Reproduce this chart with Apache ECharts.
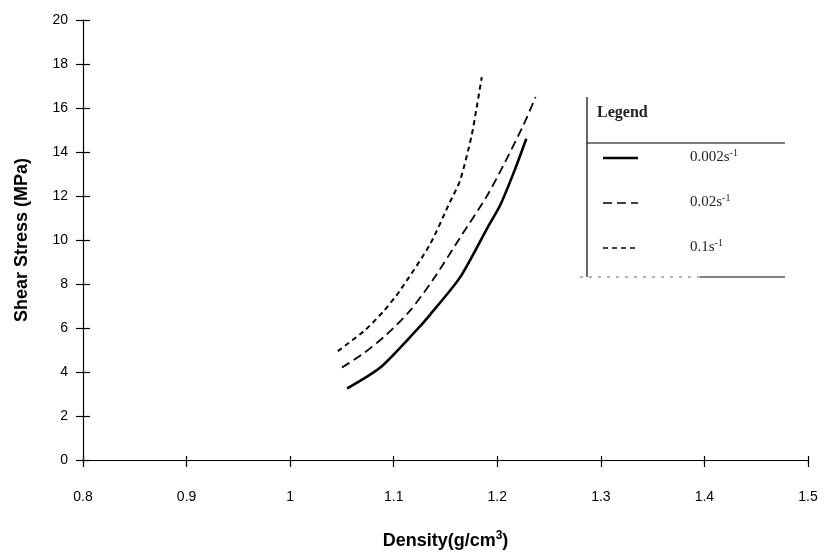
<!DOCTYPE html>
<html>
<head>
<meta charset="utf-8">
<script src="https://cdn.jsdelivr.net/npm/echarts@6/dist/echarts.min.js"></script>
<style>
html,body{margin:0;padding:0;background:#fff;}
#c{width:827px;height:555px;}
</style>
</head>
<body>
<div id="c"></div>
<script>
var xTicks = [0.8, 0.9, 1, 1.1, 1.2, 1.3, 1.4, 1.5];
var yTicks = [0, 2, 4, 6, 8, 10, 12, 14, 16, 18, 20];
var seriesNames = ['0.002s', '0.02s', '0.1s'];
var s0002 = [[1.055,3.25],[1.087,4.2],[1.122,5.9],[1.135,6.6],[1.164,8.3],[1.191,10.6],[1.203,11.6],[1.217,13.2],[1.228,14.6]];
var s002 = [[1.050,4.2],[1.071,4.85],[1.093,5.7],[1.116,6.8],[1.138,8.2],[1.164,10.1],[1.190,12.0],[1.206,13.4],[1.225,15.2],[1.237,16.5]];
var s01 = [[1.046,4.95],[1.071,5.85],[1.090,6.75],[1.106,7.7],[1.135,9.8],[1.154,11.7],[1.164,12.7],[1.175,14.7],[1.180,16.0],[1.185,17.4]];

var chart = echarts.init(document.getElementById('c'));
var G = {left:83, right:19, top:20, bottom:92};
var gw = 827 - G.left - G.right, gh = 555 - G.top - G.bottom;
var labelFont = {color:'#000', fontFamily:'Liberation Sans, Arial', fontSize:14};
var tick = {show:true, length:7, lineStyle:{color:'#000', width:1.2}};
function legendItem(y, dash, label){
  return [
    {type:'line', shape:{x1:603,y1:y,x2:638,y2:y}, style:{stroke:'#000', lineWidth:dash?1.6:2.5, lineDash:dash||null}},
    {type:'text', left:690, top:y-10, style:{text:'{b|'+label+'}{s|-1}', rich:{b:{fontFamily:'Liberation Serif, Times New Roman', fontSize:15, fill:'#222'}, s:{fontFamily:'Liberation Serif', fontSize:10, fill:'#222', verticalAlign:'top', padding:[0,0,8,0]}}}}
  ];
}
var graphic = [
  {type:'line', shape:{x1:587,y1:97,x2:587,y2:277}, style:{stroke:'#000', lineWidth:1.2}},
  {type:'line', shape:{x1:587,y1:143,x2:785,y2:143}, style:{stroke:'#000', lineWidth:1.2}},
  {type:'line', shape:{x1:580,y1:277,x2:700,y2:277}, style:{stroke:'#666', lineWidth:1, lineDash:[3,6]}},
  {type:'line', shape:{x1:700,y1:277,x2:785,y2:277}, style:{stroke:'#000', lineWidth:1.2}},
  {type:'text', left:597, top:105, style:{text:'Legend', fontFamily:'Liberation Serif, Times New Roman', fontSize:16, fontWeight:'bold', fill:'#222'}}
].concat(legendItem(158, null, '0.002s'), legendItem(203, [9,5], '0.02s'), legendItem(248, [5,4], '0.1s'));

chart.setOption({
  backgroundColor:'#fff',
  animation:false,
  grid:{left:G.left, right:G.right, top:G.top, bottom:G.bottom, containLabel:false},
  xAxis:[
    {type:'value', min:0.8, max:1.5, interval:0.1, position:'bottom',
     axisLine:{show:true, onZero:false, lineStyle:{color:'#000', width:1.2}},
     axisTick:tick, splitLine:{show:false},
     axisLabel:Object.assign({margin:30, formatter:function(v){return String(Math.round(v*10)/10);}}, labelFont),
     name:'Density(g/cm{sup|3})', nameLocation:'middle', nameGap:70,
     nameTextStyle:{color:'#000', fontFamily:'Liberation Sans, Arial', fontSize:18, fontWeight:'bold',
       rich:{sup:{fontSize:12, fontWeight:'bold', verticalAlign:'top', padding:[0,0,10,0], fontFamily:'Liberation Sans'}}}},
    {type:'value', min:0.8, max:1.5, interval:0.1, position:'top', offset:-gh,
     axisLine:{show:false}, axisTick:tick, axisLabel:{show:false}, splitLine:{show:false}}
  ],
  yAxis:[
    {type:'value', min:0, max:20, interval:2, position:'left',
     axisLine:{show:true, onZero:false, lineStyle:{color:'#000', width:1.2}},
     axisTick:tick, splitLine:{show:false},
     axisLabel:Object.assign({margin:15}, labelFont),
     name:'Shear Stress (MPa)', nameLocation:'middle', nameGap:52,
     nameTextStyle:{color:'#000', fontFamily:'Liberation Sans, Arial', fontSize:18, fontWeight:'bold'}},
    {type:'value', min:0, max:20, interval:2, position:'right', offset:-gw,
     axisLine:{show:false}, axisTick:tick, axisLabel:{show:false}, splitLine:{show:false}}
  ],
  series:[
    {name:seriesNames[0], type:'line', data:s0002, smooth:0.25, showSymbol:false, lineStyle:{color:'#000', width:2.6, type:'solid'}},
    {name:seriesNames[1], type:'line', data:s002, smooth:0.25, showSymbol:false, lineStyle:{color:'#000', width:1.8, type:[9,5]}},
    {name:seriesNames[2], type:'line', data:s01, smooth:0.25, showSymbol:false, lineStyle:{color:'#000', width:2, type:[5,4]}}
  ],
  graphic:graphic
});
</script>
</body>
</html>
